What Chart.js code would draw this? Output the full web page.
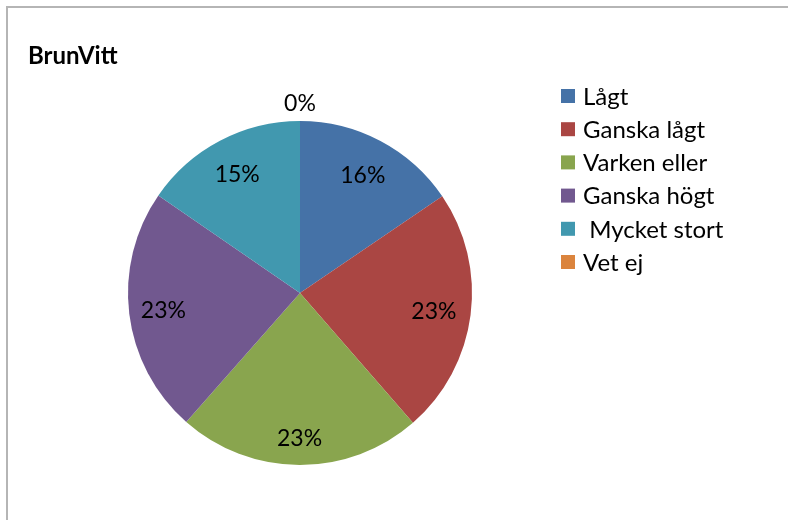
<!DOCTYPE html>
<html>
<head>
<meta charset="utf-8">
<script src="https://cdn.jsdelivr.net/npm/chart.js@4/dist/chart.umd.min.js"></script>
<style>
  html,body{margin:0;padding:0;background:#fff;}
  #wrap{position:relative;width:788px;height:520px;overflow:hidden;}
  #frame{position:absolute;left:6px;top:6px;width:800px;height:540px;border:2px solid #b5b5b5;box-sizing:border-box;}
  canvas{position:absolute;left:0;top:0;}
</style>
</head>
<body>
<div id="wrap">
  <div id="frame"></div>
  <canvas id="c" width="788" height="520"></canvas>
</div>
<script>
const title = "BrunVitt";
const categories = ["Lågt", "Ganska lågt", "Varken eller", "Ganska högt", " Mycket stort", "Vet ej"];
const values = [15.5, 23.1, 22.9, 23.1, 15.4, 0];
const colors = ["#4572A7", "#AA4643", "#89A54E", "#71588F", "#4198AF", "#DB843D"];
const labelRadius = [0.78, 0.785, 0.84, 0.80, 0.785, 1.11];
const FONT = "Lato, 'Open Sans', sans-serif";

const overlay = {
  id: 'overlay',
  afterDraw(chart) {
    const ctx = chart.ctx;
    const meta = chart.getDatasetMeta(0);
    ctx.save();
    // title
    ctx.fillStyle = '#000';
    ctx.font = "bold 24px " + FONT;
    ctx.textAlign = 'left';
    ctx.textBaseline = 'alphabetic';
    ctx.fillText(title, 28, 64);
    // data labels
    ctx.font = "23px " + FONT;
    ctx.textAlign = 'center';
    ctx.textBaseline = 'middle';
    meta.data.forEach((arc, i) => {
      const mid = (arc.startAngle + arc.endAngle) / 2;
      const r = arc.outerRadius * labelRadius[i];
      const x = arc.x + Math.cos(mid) * r;
      const y = arc.y + Math.sin(mid) * r;
      ctx.fillText(Math.round(values[i]) + '%', x, y + 1);
    });
    // legend
    ctx.textAlign = 'left';
    ctx.font = "24px " + FONT;
    categories.forEach((cat, i) => {
      const y = 96 + i * 33.2;
      ctx.fillStyle = colors[i];
      ctx.fillRect(561, y - 7, 14, 14);
      ctx.fillStyle = '#000';
      ctx.fillText(cat, 583, y + 1);
    });
    ctx.restore();
  }
};

new Chart(document.getElementById('c'), {
  type: 'pie',
  data: {
    labels: categories,
    datasets: [{
      data: values,
      backgroundColor: colors,
      borderWidth: 0
    }]
  },
  options: {
    responsive: false,
    animation: false,
    layout: { padding: { left: 128, right: 316, top: 121, bottom: 55 } },
    plugins: { legend: { display: false }, title: { display: false }, tooltip: { enabled: false } }
  },
  plugins: [overlay]
});
</script>
</body>
</html>
